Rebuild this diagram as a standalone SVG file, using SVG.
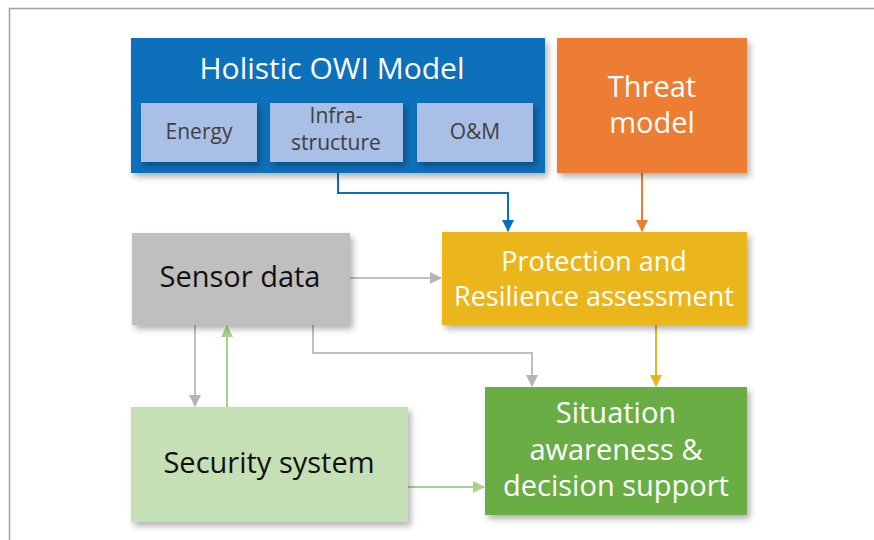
<svg xmlns="http://www.w3.org/2000/svg" width="874" height="540" viewBox="0 0 874 540">
<defs>
<filter id="sh" x="-10%" y="-10%" width="130%" height="130%">
<feDropShadow dx="3" dy="4" stdDeviation="3" flood-color="#000" flood-opacity="0.3"/>
</filter>
<marker id="aBlue" markerWidth="12" markerHeight="12" refX="11" refY="6" orient="auto" markerUnits="userSpaceOnUse"><path d="M0,0 L12,6 L0,12 Z" fill="#0a6fba"/></marker>
<marker id="aOrange" markerWidth="12" markerHeight="12" refX="11" refY="6" orient="auto" markerUnits="userSpaceOnUse"><path d="M0,0 L12,6 L0,12 Z" fill="#ed7d31"/></marker>
<marker id="aGray" markerWidth="12" markerHeight="12" refX="11" refY="6" orient="auto" markerUnits="userSpaceOnUse"><path d="M0,0 L12,6 L0,12 Z" fill="#b5b5b5"/></marker>
<marker id="aGreen" markerWidth="12" markerHeight="12" refX="11" refY="6" orient="auto" markerUnits="userSpaceOnUse"><path d="M0,0 L12,6 L0,12 Z" fill="#a9d18e"/></marker>
<marker id="aYellow" markerWidth="12" markerHeight="12" refX="11" refY="6" orient="auto" markerUnits="userSpaceOnUse"><path d="M0,0 L12,6 L0,12 Z" fill="#ebb51a"/></marker>
</defs>
<style>
text{font-family:"Open Sans","Noto Sans","Liberation Sans",sans-serif;text-anchor:middle}
.big{font-size:29px}
.w{fill:#ffffff}
.k{fill:#111111}
.sub{font-size:21px;fill:#404040}
.c{fill:none;stroke-width:2}
</style>
<rect x="0" y="0" width="874" height="540" fill="#ffffff"/>
<path d="M9.5,540 V8.5 H874" fill="none" stroke="#a0a0a0" stroke-width="1.5"/>

<g id="connectors">
<path class="c" d="M338,162 V193 H508 V231" stroke="#0a6fba" marker-end="url(#aBlue)"/>
<path class="c" d="M642,173 V231" stroke="#ed7d31" marker-end="url(#aOrange)"/>
<path class="c" d="M350,278 H441" stroke="#bfbfbf" marker-end="url(#aGray)"/>
<path class="c" d="M313,325 V353 H532 V386" stroke="#bfbfbf" marker-end="url(#aGray)"/>
<path class="c" d="M195,325 V406" stroke="#bfbfbf" marker-end="url(#aGray)"/>
<path class="c" d="M227,407 V326" stroke="#a9d18e" marker-end="url(#aGreen)"/>
<path class="c" d="M408,487 H484" stroke="#a9d18e" marker-end="url(#aGreen)"/>
<path class="c" d="M656,325 V386" stroke="#ebb51a" marker-end="url(#aYellow)"/>
</g>

<g id="holistic">
<rect x="131" y="38" width="414" height="135" fill="#0a6fba" filter="url(#sh)"/>
<text class="big w" x="332" y="79" style="font-size:30px">Holistic OWI Model</text>
</g>
<g id="energy">
<rect x="141" y="103" width="116" height="59" fill="#a9bfe6" filter="url(#sh)"/>
<text class="sub" x="199" y="139">Energy</text>
</g>
<g id="infrastructure">
<rect x="270" y="103" width="133" height="59" fill="#a9bfe6" filter="url(#sh)"/>
<text class="sub" x="336" y="123">Infra-</text>
<text class="sub" x="336" y="150">structure</text>
</g>
<g id="om">
<rect x="417" y="103" width="116" height="59" fill="#a9bfe6" filter="url(#sh)"/>
<text class="sub" x="475" y="139">O&amp;M</text>
</g>
<g id="threat">
<rect x="557" y="38" width="190" height="135" fill="#ed7d31" filter="url(#sh)"/>
<text class="big w" x="652" y="97">Threat</text>
<text class="big w" x="652" y="133">model</text>
</g>
<g id="protection">
<rect x="442" y="232" width="305" height="93" fill="#ebb51a" filter="url(#sh)"/>
<text class="big w" x="594" y="271" style="font-size:27px">Protection and</text>
<text class="big w" x="594" y="306" style="font-size:27px">Resilience assessment</text>
</g>
<g id="sensor">
<rect x="132" y="233" width="218" height="92" fill="#bfbfbf" filter="url(#sh)"/>
<text class="big k" x="240" y="287">Sensor data</text>
</g>
<g id="security">
<rect x="131" y="407" width="277" height="115" fill="#c5e0b4" filter="url(#sh)"/>
<text class="big k" x="269" y="473">Security system</text>
</g>
<g id="situation">
<rect x="485" y="387" width="262" height="128" fill="#6aad44" filter="url(#sh)"/>
<text class="big w" x="616" y="423">Situation</text>
<text class="big w" x="616" y="460">awareness &amp;</text>
<text class="big w" x="616" y="496">decision support</text>
</g>
</svg>
